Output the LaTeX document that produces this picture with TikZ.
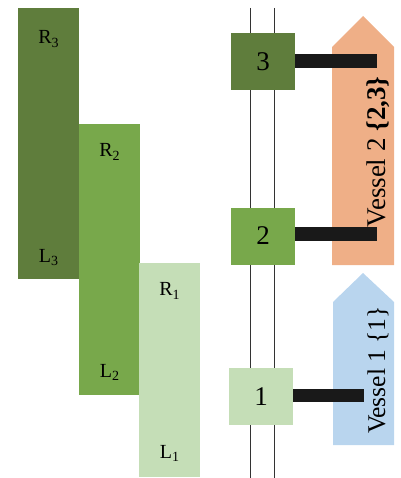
\documentclass[tikz,border=0pt]{standalone}
\usepackage{fontspec}
\setmainfont{Liberation Serif}
\usepackage{tikz}
\usepackage{xcolor}
\usetikzlibrary{positioning}
\definecolor{gdark}{HTML}{5F7D3C}
\definecolor{gmid}{HTML}{78A84B}
\definecolor{glight}{HTML}{C5DEB7}
\definecolor{vorange}{HTML}{EFAF87}
\definecolor{vblue}{HTML}{B9D5EE}
\tikzset{
    band/.style={
        rectangle, anchor=north west,
        minimum width=61, inner sep=0pt
    },
    lbl/.style={
        font=\fontsize{20}{20}\selectfont, inner sep=0pt
    },
    site/.style={
        rectangle, minimum width=64,
        minimum height=57, inner sep=0pt,
        font=\fontsize{27}{27}\selectfont
    },
    link/.style={
        line width=14pt, black!90
    },
    vlabel/.style={
        rotate=90, inner sep=0pt,
        font=\fontsize{27}{27}\selectfont
    }
}

\begin{document}
\begin{tikzpicture}[x=1pt, y=-1pt]

        \useasboundingbox (0,0) rectangle (400,478);

        % Ranges
        \node[band, fill=gdark, minimum height=271] (r3) at (18,8) {};
        \node[band, fill=gmid, minimum height=271] (r2) at (79,124) {};
        \node[band, fill=glight, minimum height=214] (r1) at (139,263) {};

        \node[lbl] (R3) at ([yshift=-31]r3.north) {R\textsubscript{3}};
        \node[lbl] (L3) at ([yshift=22]r3.south) {L\textsubscript{3}};
        \node[lbl] (R2) at ([yshift=-28]r2.north) {R\textsubscript{2}};
        \node[lbl] (L2) at ([yshift=23]r2.south) {L\textsubscript{2}};
        \node[lbl] (R1) at ([yshift=-28]r1.north) {R\textsubscript{1}};
        \node[lbl] (L1) at ([yshift=24]r1.south) {L\textsubscript{1}};

        % Rails
        \coordinate (t1) at (250,8);
        \coordinate (t2) at (274,8);
        \coordinate (b1) at (250,478);
        \coordinate (b2) at (274,478);
        \draw[black!80, line width=0.8pt] (t1) -- (b1);
        \draw[black!80, line width=0.8pt] (t2) -- (b2);

        % Sites
        \node[site, fill=gdark] (s3) at (263,61.5) {3};
        \node[site, fill=gmid] (s2) at (263,236) {2};
        \node[site, fill=glight] (s1) at (261,396.5) {1};

        % Vessels
        \fill[vorange] (332,265) -- (332,47) -- (363,16) -- (394,47)
            -- (394,265) -- cycle;
        \fill[vblue] (333,445) -- (333,302) -- (363,273) -- (394,302)
            -- (394,445) -- cycle;

        \coordinate (e3) at (377,61.5);
        \coordinate (e2) at (377,234);
        \coordinate (e1) at (364,395.5);

        % Moorings
        \draw[link] (s3.east |- e3) -- (e3);
        \draw[link] (s2.east |- e2) -- (e2);
        \draw[link, line width=13pt] (s1.east |- e1) -- (e1);

        \node[vlabel] (v2) at (378,152) {Vessel 2 \textbf{\{2,3\}}};
        \node[vlabel, font=\fontsize{25.5}{25.5}\selectfont] (v1)
            at (378,370) {Vessel 1 \{1\}};

    \end{tikzpicture}
\end{document}
